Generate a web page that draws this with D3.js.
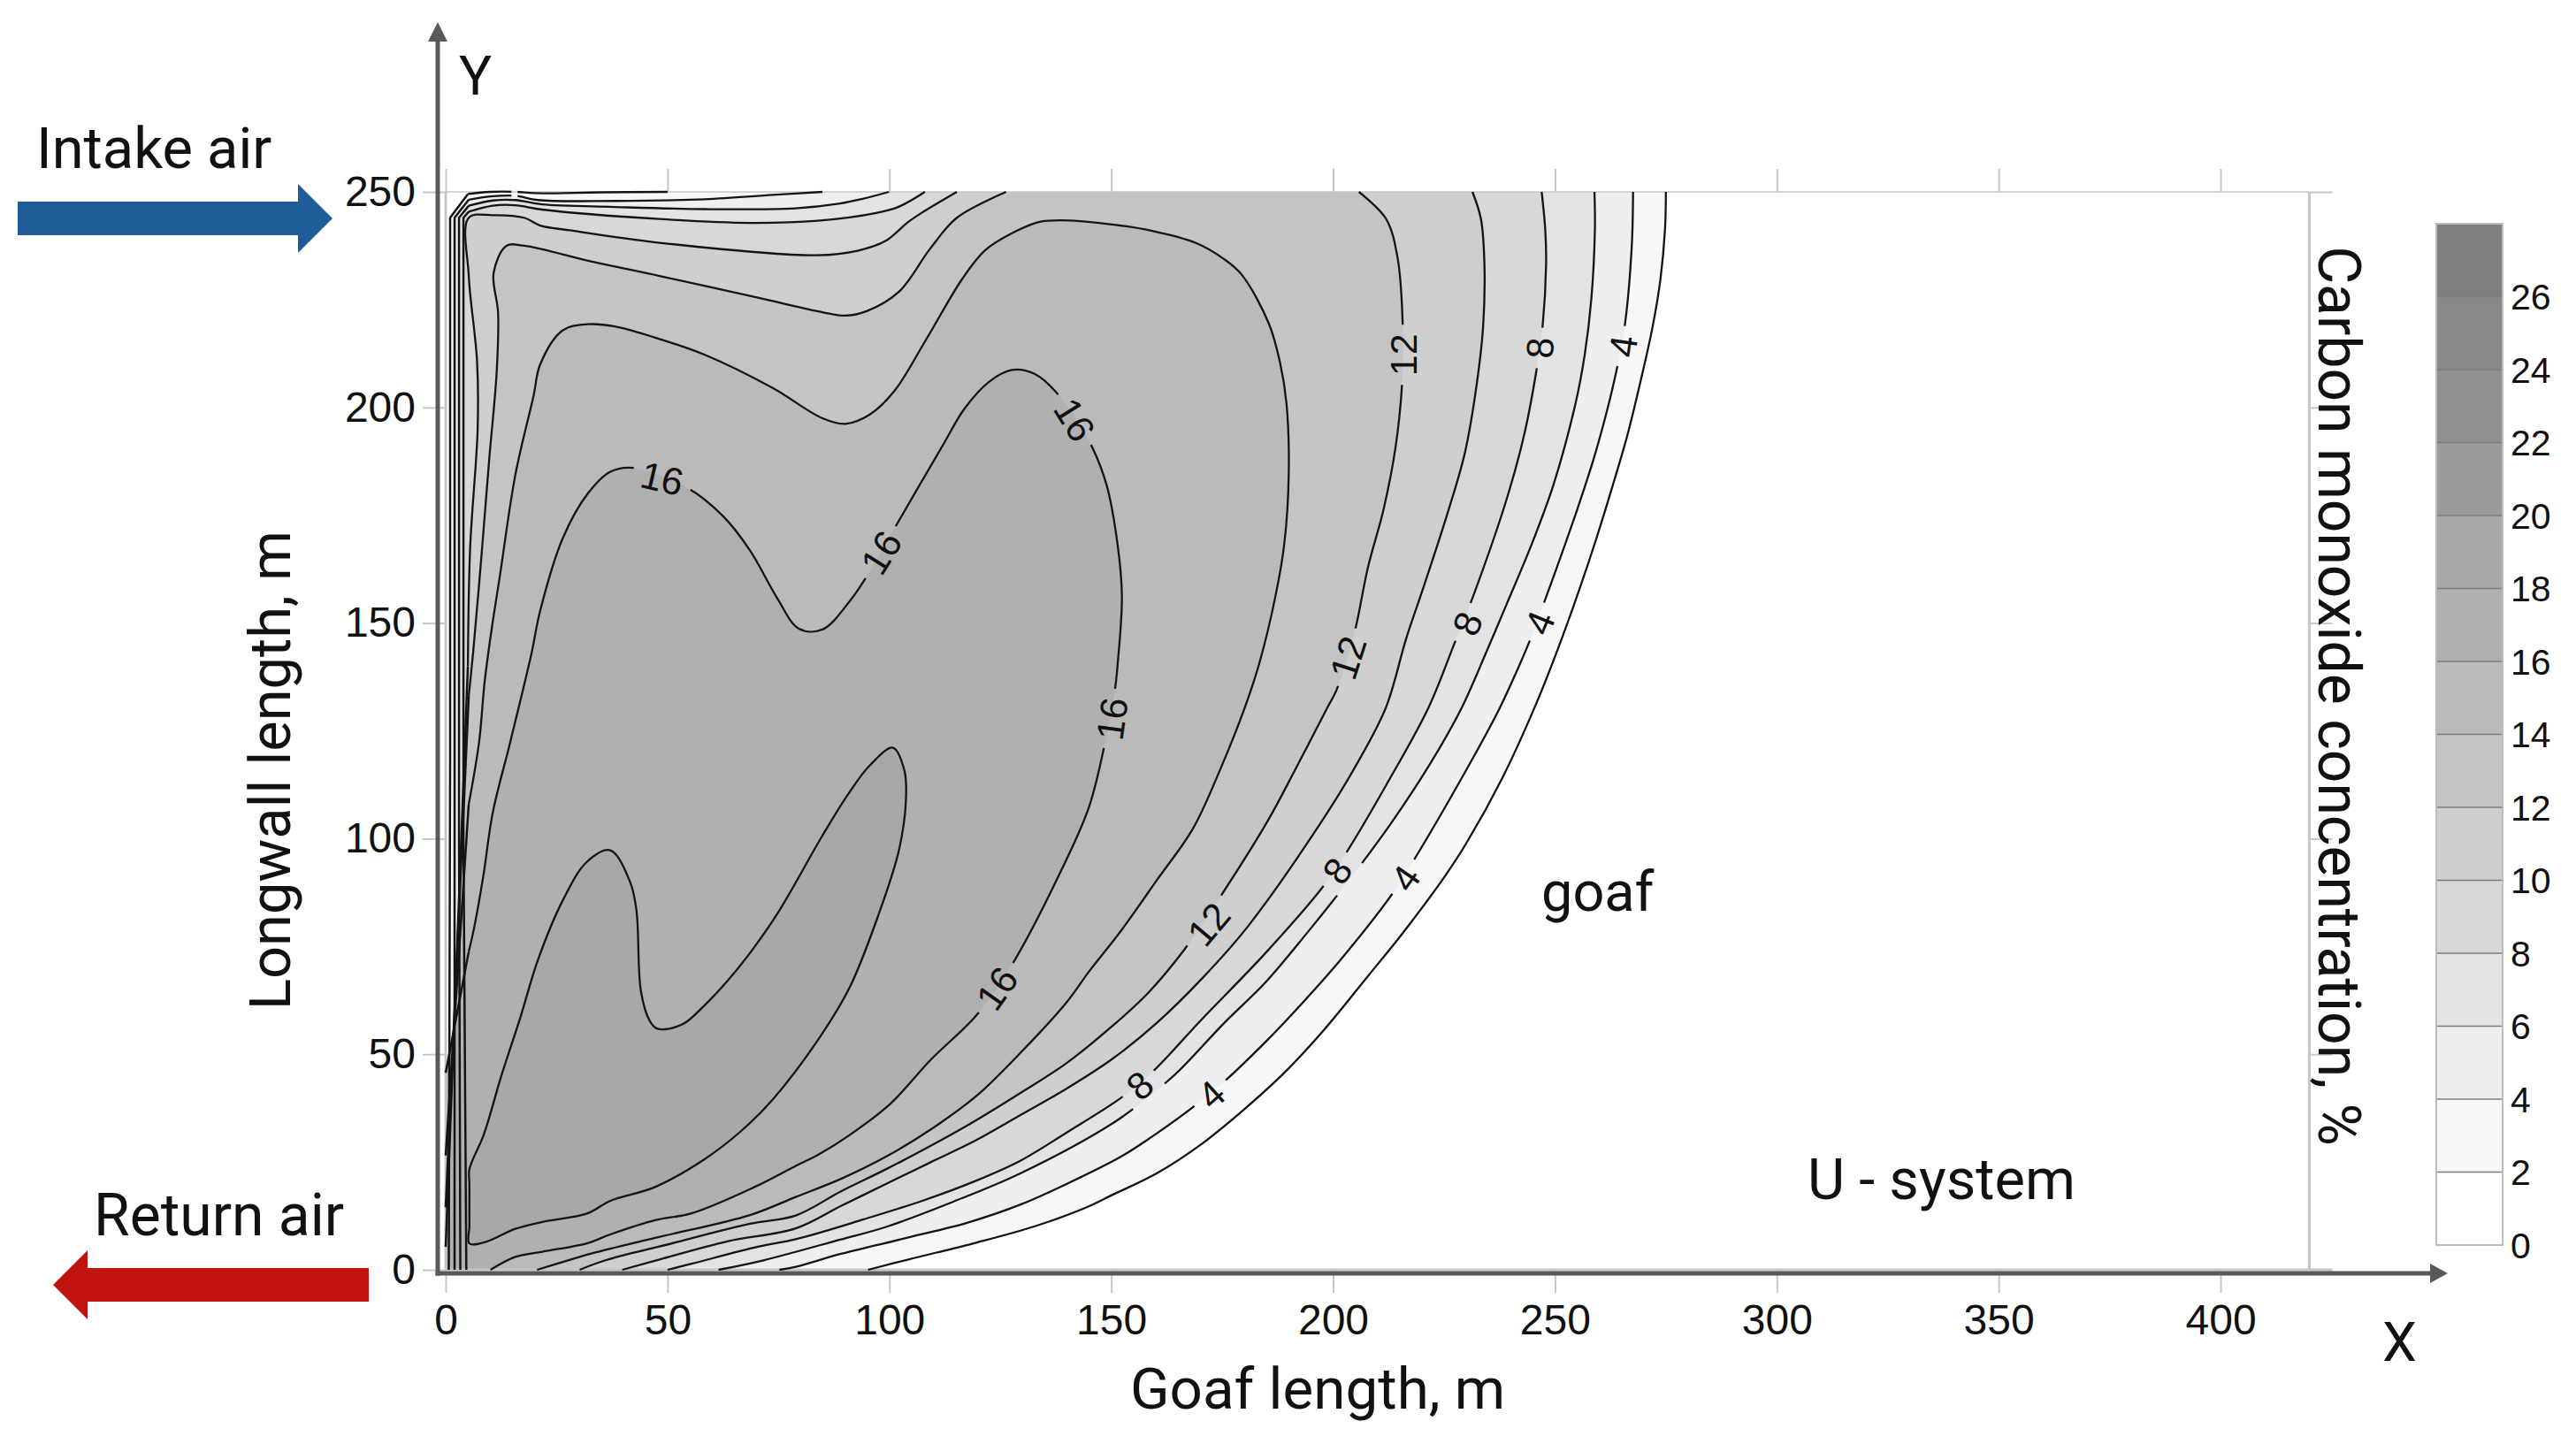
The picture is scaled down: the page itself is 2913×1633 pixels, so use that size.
<!DOCTYPE html>
<html>
<head>
<meta charset="utf-8">
<title>Carbon monoxide concentration in the goaf</title>
<script src="https://cdn.jsdelivr.net/npm/d3@7/dist/d3.min.js"></script>
<style>
  html, body { margin: 0; padding: 0; background: #fff; }
  svg { display: block; }
  .tick-num { font-family: "Liberation Sans", Arial, sans-serif; fill: #111; }
  .note { font-family: Roboto, "Open Sans", sans-serif; fill: #111; }
</style>
</head>
<body>
<svg id="chart" width="2913" height="1633"></svg>
<script>
// Concentration levels and band colours (band i spans legendLevels[i]..legendLevels[i+1]).
const legendLevels = [0, 2, 4, 6, 8, 10, 12, 14, 16, 18, 20, 22, 24, 26, 28];
const legendLabels = [0, 2, 4, 6, 8, 10, 12, 14, 16, 18, 20, 22, 24, 26];
const bandColors = ["#ffffff", "#f7f7f7", "#eeeeee", "#e3e3e3", "#d8d8d8", "#cfcfcf", "#c4c4c4", "#bababa",
                    "#b0b0b0", "#a8a8a8", "#9b9b9b", "#909090", "#888888", "#7f7f7f"];
const xTicks = [0, 50, 100, 150, 200, 250, 300, 350, 400];
const yTicks = [0, 50, 100, 150, 200, 250];

// Isolines in metres: [goaf length, longwall length].
// "Outer" runs from the floor of the panel round the leading edge, "inner" runs along the
// intake side back to the face, "wall" is the straight run packed against the face.
const level2Outer = [[95.2,0],[104.3,2.4],[119.6,6.3],[132.8,10.1],[144,14.3],[150.1,17.3],[160.3,22.4],[170.4,29.2],[179.6,36.9],[188.7,45.4],[197.9,55.6],[208,68.3],[216,78.5],[225.2,91.3],[230,98.9],[238.2,114.2],[245.4,130.4],[250.7,144.1],[255.8,158.7],[259.2,169.2],[263.1,182.2],[266.3,193.5],[269.2,205.7],[272,218.7],[273.8,230],[274.8,241.4],[275,250]];
const level2Inner = [[50,250],[35,249.9],[20,249.7],[16,250],[10,250],[5,249.5]];
const level2Wall = [[5,249.5],[1,244],[1,120],[0.7,0]];

const level4Outer = [[75.2,0],[78.9,0.7],[89.1,3.7],[104.3,7.5],[117.5,10.9],[129.7,15.2],[139.9,19.9],[152.1,26.2],[159.2,30.9],[168.4,37.7],[175.5,43.7],[184.9,53],[191.2,59.8],[201.5,71.7],[213.2,87],[218,94.7],[231.4,118.5],[237.6,130.4],[241.2,138.4],[244.4,146.1],[247.5,154.6],[254.8,175.7],[258.9,188.7],[262.3,201.6],[264.2,210.2],[265.8,219.5],[267.3,237.3],[267.6,250]];
const level4Inner = [[84.9,250],[73.7,249.3],[58.4,248.3],[38.1,247.9],[20.8,248.1],[15.7,249.1],[10.6,249],[5.2,248.2]];
const level4Wall = [[5.2,248.2],[2,244],[2,120],[2,0]];

const level6Outer = [[61.5,0],[71.6,2.2],[88.9,7],[99.1,9.9],[114.4,15.8],[129.6,22.4],[150.8,34.3],[159.6,41.1],[165.3,46.2],[175.5,57.3],[184.7,66.6],[193.8,77.7],[203,89.6],[212.8,103.2],[222,117.6],[229,130.4],[234.5,143.2],[239.2,154.6],[244.8,168.4],[249.7,182.2],[254.6,200.8],[256.7,212.2],[258.2,225.2],[259,241.4],[258.9,250]];
const level6Inner = [[99.9,250],[94,248.4],[88.9,247.3],[78.8,246.2],[58.4,246],[38.1,246.5],[21.8,247.1],[15.7,248.1],[10.6,248],[5.2,246.8]];
const level6Wall = [[5.2,246.8],[3,244],[3,100],[3.3,0]];

const level8Outer = [[50,0],[55.4,1.4],[70.6,5.4],[78.9,7.1],[94.2,11.7],[107.4,16],[119.6,20.7],[129.7,25.4],[139.9,31.8],[152.1,39.8],[159.2,45.8],[170.4,58.1],[184.7,73.4],[197.6,88.7],[203,96.8],[212,112.5],[221.5,130.4],[227.5,145.7],[231.7,156.6],[239.4,179.7],[243.2,194.3],[246,209.7],[247.2,218.7],[248,233.3],[247.8,241.4],[247,250]];
const level8Inner = [[108,250],[102.2,246.6],[97,245.1],[83.8,243.3],[68.6,242.8],[48.2,243.7],[21.8,245.9],[15.7,246.9],[10.6,246.8],[5.2,245.4]];
const level8Wall = [[5.2,245.4],[4,244],[4,100],[4.65,0]];

const level10Outer = [[39.8,0],[48.2,2.4],[63.5,6.6],[78.9,9.6],[89.1,14.8],[99.2,19.9],[109.4,25],[119.6,30.1],[129.7,36],[139.9,42],[150.1,48.8],[160.3,57.3],[170.4,67.5],[180.6,79.4],[196.9,103.2],[205.5,117.6],[211.9,130.4],[216.5,146.5],[220.5,158.7],[226.1,176.5],[229.7,189.5],[232.3,204.9],[233.8,218.7],[234.1,233.3],[233.3,243.8],[231.4,250]];
const level10Inner = [[115.2,250],[107.2,245.1],[104.2,243],[99.1,238.6],[93,236.4],[83.8,235.3],[48.2,238.2],[27.9,241.1],[21.3,242.2],[17.7,244],[10.6,244.6],[5.2,244],[5.2,230.5],[7.07,210.7],[7.2,195],[5.5,167.3],[5,140]];
const level10Wall = [[5,140],[0,5.3]];

const level12Outer = [[30.2,0],[36,2.2],[48.2,5.4],[68.6,10.7],[78.9,12.6],[89.1,18.2],[99.2,23.3],[109.4,28.8],[119.6,34.7],[129.7,41.1],[139.9,47.9],[150.1,56.4],[158.2,64.1],[166.5,74.3],[173.8,85.3],[185.2,104],[191,115.1],[198.7,130.4],[200.7,134.3],[204.8,147.7],[207.8,162.7],[211.4,176.5],[214,190.3],[215.5,204.9],[215.7,218.7],[214.5,234.9],[211.9,243.8],[205.8,250]];
const level12Inner = [[126.3,250],[115.2,244],[109.3,237],[102.1,226.8],[95,222.4],[90,221.3],[84.9,222.1],[70.6,225.4],[48.2,230.5],[33,233.8],[17.7,237.5],[13.7,237.5],[10.8,231.2],[11.8,222],[11.5,208.4],[9.8,187.9],[8.2,167.3],[6.2,143.4],[5.2,133.2]];
const level12Wall = [[5.2,133.2],[0,14.5]];

const level14Outer = [[20.6,0],[27.9,2.3],[33,3.8],[47.2,7.4],[68.6,12.7],[78.9,16.9],[89.1,21.1],[99.7,26.5],[109.4,32.6],[119.6,40.3],[129.7,50.5],[139.9,62],[145,69.2],[152.1,78.5],[160.3,90.4],[168.4,102.3],[174.5,115.9],[180.1,130.4],[183.4,140.8],[187,156.2],[189,168.4],[190,184.6],[189.5,200.8],[188,210.6],[185.5,219.5],[179.4,230.8],[175.3,234.5],[169.2,238.1],[159,241],[148.9,242.6],[138.7,243.4],[133.7,243],[127.6,240.4],[121.5,236.4],[116.4,229.8],[108.3,215.8],[101.1,203.8],[95.5,198.3],[90.1,196.2],[84.9,197.5],[73.7,204.5],[58.4,212.2],[47.2,216.2],[38.1,218.8],[32,219.3],[26.4,217.9],[21.3,210],[19.8,202.7],[15.7,184.4],[12.15,160.5],[10.5,149.6],[8.8,136.6],[7.5,122.2],[5.18,107.9]];
const level14Wall = [[5.18,107.9],[0,26.5]];

const level16Outer = [[10.1,0],[15.7,3],[21.8,4.2],[32,6.2],[37.1,8.2],[47.2,11.5],[55.4,13.1],[69.6,19.2],[78.9,24.1],[84,26.7],[91.1,31.3],[100.3,38.6],[109.4,48.8],[119.6,59],[127.7,70.9],[138.9,93],[145,107.4],[148.6,122.3],[150.9,135.1],[151.4,140],[152.4,156.2],[151.4,168.4],[148.9,182.2],[144.9,192.4],[137.7,203.4],[132.7,207.8],[127.6,208.7],[122.5,206],[116.9,199.7],[112.3,191.7],[101.1,171.9],[94.5,160.2],[91,155],[84.9,148.5],[79.6,148.7],[74.7,155.8],[68.6,166.8],[62.5,174.8],[54.4,181.4],[42.2,186],[37.1,185.1],[32,180],[26.4,169.7],[21.3,152.9],[19.3,142.8],[14.5,122.2],[10.6,106],[8.5,91.5],[6.5,79.8],[5.18,73.7]];
const level16Wall = [[5.18,73.7],[0,45.7]];

// The 18 % isoline closes on itself.
const level18Loop = [[5.34,23.3],[8.6,31.4],[12.6,45.2],[16.7,58.1],[20.8,71.9],[26.4,85.7],[31.8,94.6],[37.1,97.3],[41.6,89.8],[43,83.3],[44,64.6],[46,57.7],[47.7,55.9],[53.3,56.9],[58.4,61.4],[63.5,67],[68.6,73.5],[74.7,82.5],[84.9,100.7],[90.5,110],[95.5,116.9],[100.8,121.1],[103.4,115.7],[103.7,108.4],[102.1,97.1],[97.6,82.5],[91,65.4],[83.9,53.3],[73.7,39.5],[66.6,32.2],[58.4,25.7],[47.2,19.2],[37.1,16],[32,13.1],[21.8,11.1],[15.7,9.5],[9.1,6.5],[5.34,6.1],[5.34,10],[5.34,15],[5.34,20]];

// In-line labels: [level, goaf length, longwall length, text rotation in degrees].
const isolineLabels = [
  [16, 48.8, 183.6, 13], [16, 98.1, 166.4, -58], [16, 141.8, 197.2, 58], [16, 150.1, 127.8, -82], [16, 124.2, 65.3, -55],
  [12, 215.7, 212.2, -90], [12, 203.3, 142, -72], [12, 171.9, 80.2, -50],
  [8, 246.5, 213.8, -88], [8, 230.2, 149.9, -68], [8, 200.9, 92.6, -55], [8, 156.4, 42.8, -40],
  [4, 265.3, 214.2, -82], [4, 246.5, 150.1, -68], [4, 216.2, 90.9, -55], [4, 172.5, 40.7, -42]
];

const svg = d3.select("#chart");
const xScale = d3.scaleLinear().domain([0, 420]).range([504, 2611.4]);
const yScale = d3.scaleLinear().domain([0, 250]).range([1436, 217]);
const legendScale = d3.scaleLinear().domain([0, 28]).range([1408, 253]);
const toXY = p => [xScale(p[0]), yScale(p[1])];

const smooth = d3.line().curve(d3.curveCatmullRom.alpha(0.5));
const straight = d3.line();
const loop = d3.line().curve(d3.curveCatmullRomClosed.alpha(0.5));

const isolines = [
  { level: 2, outer: level2Outer, inner: level2Inner, wall: level2Wall },
  { level: 4, outer: level4Outer, inner: level4Inner, wall: level4Wall },
  { level: 6, outer: level6Outer, inner: level6Inner, wall: level6Wall },
  { level: 8, outer: level8Outer, inner: level8Inner, wall: level8Wall },
  { level: 10, outer: level10Outer, inner: level10Inner, wall: level10Wall },
  { level: 12, outer: level12Outer, inner: level12Inner, wall: level12Wall },
  { level: 14, outer: level14Outer, inner: null, wall: level14Wall },
  { level: 16, outer: level16Outer, inner: null, wall: level16Wall }
];
const bandColor = level => bandColors[legendLevels.indexOf(level)];

// Filled bands, lowest level first so each one paints over the last.
// Walls that leave through x = 0 close by way of the panel's corner.
const bandLayer = svg.append("g");
isolines.forEach(iso => {
  const parts = [smooth(iso.outer.map(toXY))];
  if (iso.inner) parts.push(smooth(iso.inner.map(toXY)).replace(/^M/, "L"));
  parts.push(straight(iso.wall.map(toXY)).replace(/^M/, "L"));
  if (iso.level >= 10) parts.push("L" + toXY([0, 0]).join(","));
  bandLayer.append("path").attr("d", parts.join("") + "Z").attr("fill", bandColor(iso.level));
});
bandLayer.append("path").attr("d", loop(level18Loop.map(toXY))).attr("fill", bandColor(18));

// Light plot frame with ticks on all four sides.
const frameColor = "#c6c6c6";
const frame = svg.append("g").attr("stroke", frameColor).attr("fill", "none");
frame.append("line").attr("x1", xScale(0)).attr("x2", xScale(420)).attr("y1", yScale(250)).attr("y2", yScale(250)).attr("stroke-width", 1.6);
frame.append("line").attr("x1", xScale(420)).attr("x2", xScale(420)).attr("y1", yScale(250)).attr("y2", yScale(0)).attr("stroke-width", 3);
frame.append("line").attr("x1", xScale(0)).attr("x2", xScale(0)).attr("y1", yScale(250)).attr("y2", yScale(0)).attr("stroke-width", 3);
frame.append("line").attr("x1", xScale(0)).attr("x2", xScale(420) + 26).attr("y1", yScale(0)).attr("y2", yScale(0)).attr("stroke-width", 3);

const styleAxis = (g, size, sw) => {
  g.select(".domain").remove();
  g.selectAll("line").attr("stroke", frameColor).attr("stroke-width", sw);
  g.selectAll("text").attr("class", "tick-num").attr("font-size", size).attr("font-family", null);
};
svg.append("g").attr("transform", `translate(0,${yScale(0)})`)
  .call(d3.axisBottom(xScale).tickValues(xTicks).tickSize(26).tickPadding(13))
  .call(styleAxis, 48, 2);
svg.append("g").attr("transform", `translate(0,${yScale(250)})`)
  .call(d3.axisTop(xScale).tickValues(xTicks).tickSize(26).tickFormat(""))
  .call(styleAxis, 48, 2);
svg.append("g").attr("transform", `translate(${xScale(0)},0)`)
  .call(d3.axisLeft(yScale).tickValues(yTicks).tickSize(26).tickPadding(8))
  .call(styleAxis, 48, 2);
svg.append("g").attr("transform", `translate(${xScale(420)},0)`)
  .call(d3.axisRight(yScale).tickValues(yTicks).tickSize(26).tickFormat(""))
  .call(styleAxis, 48, 2);

// Isoline strokes, cut open where the in-line numbers sit.
const labelBox = d => ({ w: String(d[0]).length > 1 ? 68 : 46, h: 46 });
const defs = svg.append("defs");
const cut = defs.append("mask").attr("id", "label-cuts").attr("maskUnits", "userSpaceOnUse")
  .attr("x", 0).attr("y", 0).attr("width", 2913).attr("height", 1633);
cut.append("rect").attr("width", 2913).attr("height", 1633).attr("fill", "#fff");
cut.selectAll("rect.hole").data(isolineLabels).join("rect").attr("class", "hole")
  .attr("x", d => -labelBox(d).w / 2).attr("y", d => -labelBox(d).h / 2)
  .attr("width", d => labelBox(d).w).attr("height", d => labelBox(d).h)
  .attr("fill", "#000")
  .attr("transform", d => `translate(${xScale(d[1])},${yScale(d[2])}) rotate(${d[3]})`);
// Short break where the 2 % line brushes the top edge.
cut.append("rect").attr("x", xScale(14.8)).attr("y", yScale(250) - 8).attr("width", 7).attr("height", 16).attr("fill", "#000");

const lineLayer = svg.append("g").attr("fill", "none").attr("stroke", "#141414").attr("stroke-width", 2.3)
  .attr("stroke-linejoin", "round").attr("mask", "url(#label-cuts)");
isolines.forEach(iso => {
  lineLayer.append("path").attr("d", smooth(iso.outer.map(toXY)));
  if (iso.inner) lineLayer.append("path").attr("d", smooth(iso.inner.map(toXY)));
  lineLayer.append("path").attr("d", straight(iso.wall.map(toXY))).attr("stroke-width", 2.5);
});
lineLayer.append("path").attr("d", loop(level18Loop.map(toXY)));

svg.append("g").selectAll("text").data(isolineLabels).join("text")
  .attr("class", "tick-num").attr("font-size", 43)
  .attr("text-anchor", "middle").attr("dy", "0.36em")
  .attr("transform", d => `translate(${xScale(d[1])},${yScale(d[2])}) rotate(${d[3]})`)
  .text(d => d[0]);

// Dark X and Y arrows.
const axisColor = "#595959";
const axisX = 495, axisY = 1440;
svg.append("line").attr("x1", axisX).attr("x2", axisX).attr("y1", 44).attr("y2", axisY + 2.5).attr("stroke", axisColor).attr("stroke-width", 5);
svg.append("line").attr("x1", axisX - 2.5).attr("x2", 2750).attr("y1", axisY).attr("y2", axisY).attr("stroke", axisColor).attr("stroke-width", 5);
svg.append("path").attr("fill", axisColor).attr("d", d3.line()([[axisX, 25], [axisX + 11, 47], [axisX - 11, 47]]) + "Z");
svg.append("path").attr("fill", axisColor).attr("d", d3.line()([[2768, axisY], [2748, axisY - 11], [2748, axisY + 11]]) + "Z");

// Colour scale on the right.
const legend = svg.append("g");
const legendLeft = 2755, legendRight = 2830;
legend.selectAll("rect").data(bandColors).join("rect")
  .attr("x", legendLeft).attr("width", legendRight - legendLeft)
  .attr("y", (d, i) => legendScale(legendLevels[i + 1]))
  .attr("height", (d, i) => legendScale(legendLevels[i]) - legendScale(legendLevels[i + 1]))
  .attr("fill", d => d);
legend.selectAll("line").data(legendLabels.slice(1)).join("line")
  .attr("x1", legendLeft).attr("x2", legendRight)
  .attr("y1", d => legendScale(d)).attr("y2", d => legendScale(d))
  .attr("stroke", "#7c7c7c").attr("stroke-width", 1.6);
legend.append("rect").attr("x", legendLeft).attr("y", legendScale(28)).attr("width", legendRight - legendLeft)
  .attr("height", legendScale(0) - legendScale(28)).attr("fill", "none").attr("stroke", "#bdbdbd").attr("stroke-width", 2);
legend.selectAll("text").data(legendLabels).join("text")
  .attr("class", "tick-num").attr("font-size", 41)
  .attr("x", 2839).attr("y", d => legendScale(d)).attr("dy", "0.36em")
  .text(d => d);

// Air-flow arrows.
const intakeArrow = [[20, 228], [337, 228], [337, 208], [376, 247], [337, 286], [337, 266], [20, 266]];
const returnArrow = [[417, 1434], [99, 1434], [99, 1414], [60, 1453], [99, 1492], [99, 1472], [417, 1472]];
svg.append("path").attr("fill", "#1f5c99").attr("d", d3.line()(intakeArrow) + "Z");
svg.append("path").attr("fill", "#c0130f").attr("d", d3.line()(returnArrow) + "Z");

// Captions and annotations.
const notes = [
  { text: "Intake air", x: 41, y: 190, size: 65 },
  { text: "Return air", x: 106, y: 1397, size: 66 },
  { text: "Y", x: 519, y: 107, size: 62 },
  { text: "X", x: 2694, y: 1539, size: 62 },
  { text: "goaf", x: 1743, y: 1030, size: 63 },
  { text: "U - system", x: 2044, y: 1356, size: 65 },
  { text: "Goaf length, m", x: 1278, y: 1593, size: 65.5 }
];
svg.append("g").selectAll("text").data(notes).join("text")
  .attr("class", "note").attr("x", d => d.x).attr("y", d => d.y).attr("font-size", d => d.size).text(d => d.text);
svg.append("text").attr("class", "note").attr("font-size", 65).attr("text-anchor", "middle")
  .attr("transform", "translate(328,871) rotate(-90)").text("Longwall length, m");
svg.append("text").attr("class", "note").attr("font-size", 66).attr("text-anchor", "middle")
  .attr("transform", "translate(2622,787) rotate(90)").text("Carbon monoxide concentration, %");
</script>
</body>
</html>
